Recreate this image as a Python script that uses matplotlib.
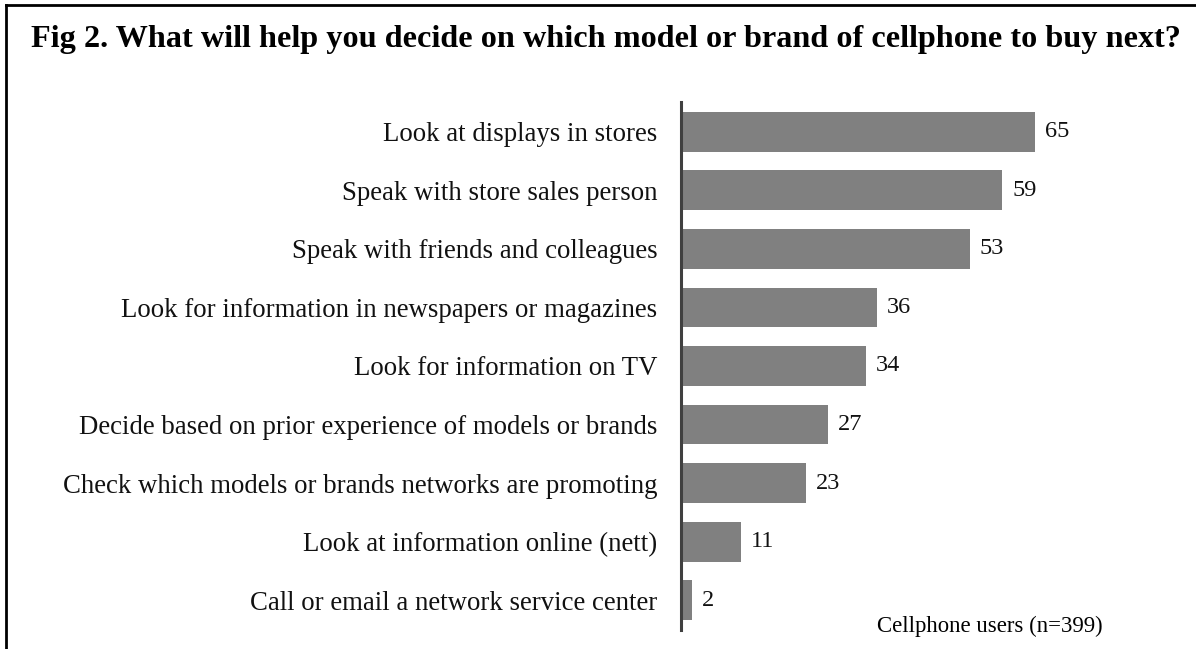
import matplotlib.pyplot as plt
from matplotlib.lines import Line2D

categories = [
    'Look at displays in stores',
    'Speak with store sales person',
    'Speak with friends and colleagues',
    'Look for information in newspapers or magazines',
    'Look for information on TV',
    'Decide based on prior experience of models or brands',
    'Check which models or brands networks are promoting',
    'Look at information online (nett)',
    'Call or email a network service center',
]
values = [65, 59, 53, 36, 34, 27, 23, 11, 2]

plt.rcParams['font.family'] = ['Liberation Serif', 'DejaVu Serif']

fig = plt.figure(figsize=(11.96, 6.49), dpi=100)
ax = fig.add_axes([681 / 1196, 1 - 630 / 649, 469 / 1196, 528 / 649])

ypos = list(range(len(categories)))
ax.barh(ypos, values, height=0.68, color='#808080')
ax.set_ylim(8.51, -0.51)
ax.set_xlim(0, 86.1)

for y, v in zip(ypos, values):
    ax.text(v + 1.8, y, str(v), va='center', ha='left', fontsize=17.5, color='#111111')

ax.set_yticks(ypos)
ax.set_yticklabels(categories, fontsize=19.3, color='#111111')
ax.tick_params(axis='y', length=0, pad=17)
ax.set_xticks([])
for s in ['top', 'right', 'bottom']:
    ax.spines[s].set_visible(False)
ax.spines['left'].set_color('#404040')
ax.spines['left'].set_linewidth(2.2)

fig.text(606 / 1196, 1 - 39 / 649, 'Fig 2. What will help you decide on which model or brand of cellphone to buy next?',
         ha='center', va='center', fontsize=23.2, fontweight='bold')
fig.text(1103 / 1196, 1 - 626 / 649, 'Cellphone users (n=399)', ha='right', va='center', fontsize=16.4)

# frame: top and left edges only visible
fig.add_artist(Line2D([6 / 1196, 6 / 1196], [0, 1 - 5 / 649], transform=fig.transFigure, color='black', lw=2))
fig.add_artist(Line2D([6 / 1196, 1], [1 - 5 / 649, 1 - 5 / 649], transform=fig.transFigure, color='black', lw=2))

fig.savefig('out.png', dpi=100)
